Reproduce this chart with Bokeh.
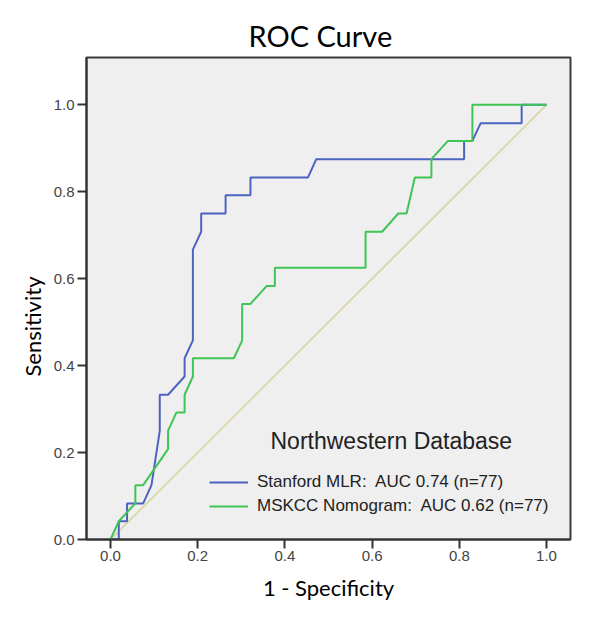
from bokeh.plotting import figure
from bokeh.models import (Range1d, FixedTicker, NumeralTickFormatter, Title, Legend,
                          LegendItem, Label)
from bokeh.embed import file_html
from bokeh.resources import INLINE

# ---- data ----
stanford_fpr = [0.0, 0.019, 0.019, 0.038, 0.038, 0.075, 0.094, 0.113, 0.113, 0.132,
                0.170, 0.170, 0.189, 0.189, 0.208, 0.208, 0.264, 0.264, 0.321, 0.321,
                0.453, 0.472, 0.811, 0.811, 0.830, 0.849, 0.943, 0.943, 1.0]
stanford_tpr = [0.0, 0.0, 0.042, 0.042, 0.083, 0.083, 0.125, 0.250, 0.333, 0.333,
                0.375, 0.417, 0.458, 0.667, 0.708, 0.750, 0.750, 0.792, 0.792, 0.833,
                0.833, 0.875, 0.875, 0.917, 0.917, 0.958, 0.958, 1.0, 1.0]

mskcc_fpr = [0.0, 0.019, 0.057, 0.057, 0.075, 0.132, 0.132, 0.151, 0.170, 0.170,
             0.189, 0.189, 0.283, 0.302, 0.302, 0.321, 0.358, 0.377, 0.377, 0.585,
             0.585, 0.623, 0.660, 0.679, 0.698, 0.736, 0.736, 0.774, 0.830, 0.830, 1.0]
mskcc_tpr = [0.0, 0.042, 0.083, 0.125, 0.125, 0.208, 0.250, 0.292, 0.292, 0.333,
             0.375, 0.417, 0.417, 0.458, 0.542, 0.542, 0.583, 0.583, 0.625, 0.625,
             0.708, 0.708, 0.750, 0.750, 0.833, 0.833, 0.875, 0.917, 0.917, 1.0, 1.0]

ref_x = [0.0, 1.0]
ref_y = [0.0, 1.0]

tick_values = [0.0, 0.2, 0.4, 0.6, 0.8, 1.0]

series_labels = ["Stanford MLR:  AUC 0.74 (n=77)", "MSKCC Nomogram:  AUC 0.62 (n=77)"]
legend_title = "Northwestern Database"

# ---- figure ----
p = figure(width=584, height=608, output_backend="svg", toolbar_location=None,
           x_range=Range1d(-0.055, 1.055), y_range=Range1d(0, 1.109),
           min_border_left=86, min_border_right=14, min_border_top=57, min_border_bottom=69)

p.background_fill_color = "#efefef"
p.border_fill_color = "white"
p.outline_line_color = "#3a3a3a"
p.outline_line_width = 2
p.grid.visible = False

for ax in (p.xaxis[0], p.yaxis[0]):
    ax.ticker = FixedTicker(ticks=tick_values)
    ax.formatter = NumeralTickFormatter(format="0.0")
    ax.axis_line_width = 2
    ax.axis_line_color = "#333333"
    ax.major_tick_line_width = 2
    ax.major_tick_line_color = "#333333"
    ax.major_tick_out = 9
    ax.major_tick_in = 0
    ax.minor_tick_line_color = None
    ax.major_label_text_font = "Liberation Sans"
    ax.major_label_text_font_size = "15px"
    ax.major_label_text_color = "#444444"
    ax.major_label_standoff = 3

p.xaxis.major_label_standoff = 2
p.xaxis.axis_label = "1 - Specificity"
p.xaxis.axis_label_text_font = "Lato"
p.xaxis.axis_label_text_font_size = "22px"
p.xaxis.axis_label_text_font_style = "normal"
p.xaxis.axis_label_text_color = "black"
p.xaxis.axis_label_standoff = 10

ylab = Title(text="Sensitivity", align="left", offset=163, text_font="Lato",
             text_font_size="22px", text_font_style="normal", text_color="black")
p.add_layout(ylab, "left")

ttl = Title(text="ROC Curve", align="left", offset=162, text_font="Lato",
            text_font_size="29px", text_font_style="normal", text_color="black")
p.add_layout(ttl, "above")

# ---- lines ----
p.line(ref_x, ref_y, line_color="#d8d3a2", line_width=1.6)
r1 = p.line(stanford_fpr, stanford_tpr, line_color="#4d63c2", line_width=2)
r2 = p.line(mskcc_fpr, mskcc_tpr, line_color="#3fc455", line_width=2)

legend = Legend(items=[LegendItem(label=series_labels[0], renderers=[r1]),
                       LegendItem(label=series_labels[1], renderers=[r2])],
                location=(123, 23), padding=0, margin=0, spacing=4,
                glyph_width=39, glyph_height=20, label_height=20, label_standoff=9,
                label_text_font="Liberation Sans", label_text_font_size="17px",
                label_text_color="#222222", border_line_color=None,
                background_fill_alpha=0)
p.add_layout(legend)

p.add_layout(Label(x=184, y=99, x_units="screen", y_units="screen", text=legend_title,
                   text_font="Liberation Sans", text_font_size="23px",
                   text_color="#222222", text_baseline="alphabetic"))

open("out.html", "w").write(file_html(p, INLINE))
